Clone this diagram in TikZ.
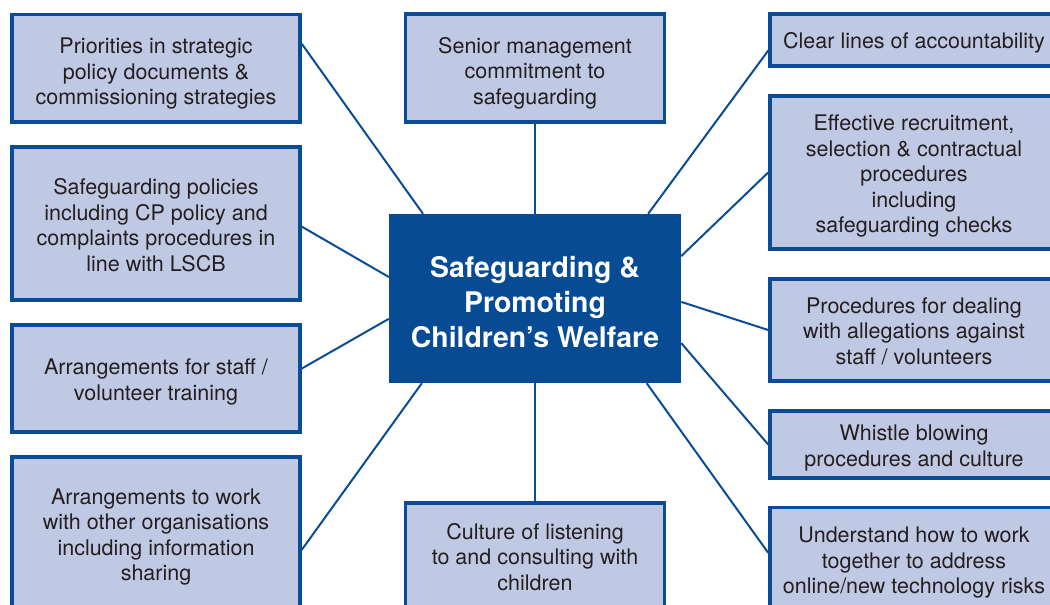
\documentclass[tikz,border=0pt]{standalone}
\usepackage{fontspec}
\setmainfont{TeX Gyre Heros}
\usetikzlibrary{calc}
\definecolor{bordblue}{HTML}{0A4C96}
\definecolor{centblue}{HTML}{064B93}
\definecolor{lightfill}{HTML}{C0C9E3}
\definecolor{txt}{HTML}{231F20}
\newcommand{\topstrut}[1][21.7pt]{\rule{0pt}{#1}}
\newcommand{\hubstrut}{\rule{0pt}{27.7pt}}
\tikzset{
  box/.style={draw=bordblue, line width=3.6pt, fill=lightfill, text=txt,
    align=center, inner sep=0pt, text depth=0pt,
    font=\fontsize{21.5}{25.5}\selectfont},
  hub/.style={fill=centblue, text=white, align=center, inner sep=0pt,
    text depth=0pt,
    font=\fontsize{28.4}{35}\selectfont\bfseries},
  link/.style={draw=bordblue, line width=2pt}
}
\begin{document}
\begin{tikzpicture}[x=1pt,y=-1pt]
\useasboundingbox (0,0) rectangle (1050,605);
\clip (0,0) rectangle (1050,605);
\path
  (156,68.25) node[box, minimum width=288pt, minimum height=107.5pt] (b1) {\topstrut Priorities in strategic\\policy documents \&\\commissioning strategies}
  (156,223.5) node[box, minimum width=288pt, minimum height=153pt] (b2) {\topstrut[18.7pt]Safeguarding policies\\including CP policy and\\complaints procedures in\\line with LSCB}
  (156,378.5) node[box, minimum width=288pt, minimum height=107pt] (b3) {\topstrut[17.7pt]Arrangements for staff /\\volunteer training}
  (156,534) node[box, minimum width=288pt, minimum height=154pt] (b4) {\topstrut[16.7pt]Arrangements to work\\with other organisations\\including information\\sharing}
  (535,68) node[box, minimum width=259pt, minimum height=108pt] (sm) {\topstrut Senior management\\commitment to\\safeguarding}
  (535,557.5) node[box, minimum width=259pt, minimum height=109pt, text depth=2pt] (cu) {\topstrut[15.7pt]Culture of listening\\to and consulting with\\children}
  (914,40) node[box, minimum width=288pt, minimum height=52pt] (cl) {Clear lines of accountability}
  (914,172.5) node[box, minimum width=288pt, minimum height=153pt] (er) {\topstrut[18.7pt]Effective recruitment,\\selection \& contractual\\procedures\\including\\safeguarding checks}
  (914,330) node[box, minimum width=288pt, minimum height=102pt] (pr) {\topstrut[17.7pt]Procedures for dealing\\with allegations against\\staff / volunteers}
  (914,444.5) node[box, minimum width=288pt, minimum height=67pt] (wb) {\topstrut[17.7pt]Whistle blowing\\procedures and culture}
  (914,560.5) node[box, minimum width=288pt, minimum height=106pt] (un) {\topstrut[15.7pt]Understand how to work\\together to address\\online/new technology risks}
  (535,298.5) node[hub, minimum width=292pt, minimum height=169pt] (c) {\hubstrut Safeguarding \&\\Promoting\\Children’s Welfare};
\draw[link] ($(b1.north east)!0.28!(b1.south east)$) -- ($(c.north west)!0.117!(c.north east)$);
\draw[link] ($(b2.north east)!0.52!(b2.south east)$) -- ($(c.north west)!0.373!(c.south west)$);
\draw[link] ($(b3.north east)!0.41!(b3.south east)$) -- ($(c.north west)!0.62!(c.south west)$);
\draw[link] ($(b4.north east)!0.60!(b4.south east)$) -- ($(c.south west)!0.113!(c.south east)$);
\draw[link] (sm.south) -- (c.north);
\draw[link] (cu.north) -- (c.south);
\draw[link] ($(cl.north west)!0.69!(cl.south west)$) -- ($(c.north west)!0.887!(c.north east)$);
\draw[link] (er.west) -- ($(c.north east)!0.25!(c.south east)$);
\draw[link] (pr.west) -- ($(c.north east)!0.52!(c.south east)$);
\draw[link] (wb.west) -- ($(c.north east)!0.763!(c.south east)$);
\draw[link] ($(un.north west)!0.43!(un.south west)$) -- ($(c.south west)!0.882!(c.south east)$);
\end{tikzpicture}
\end{document}
